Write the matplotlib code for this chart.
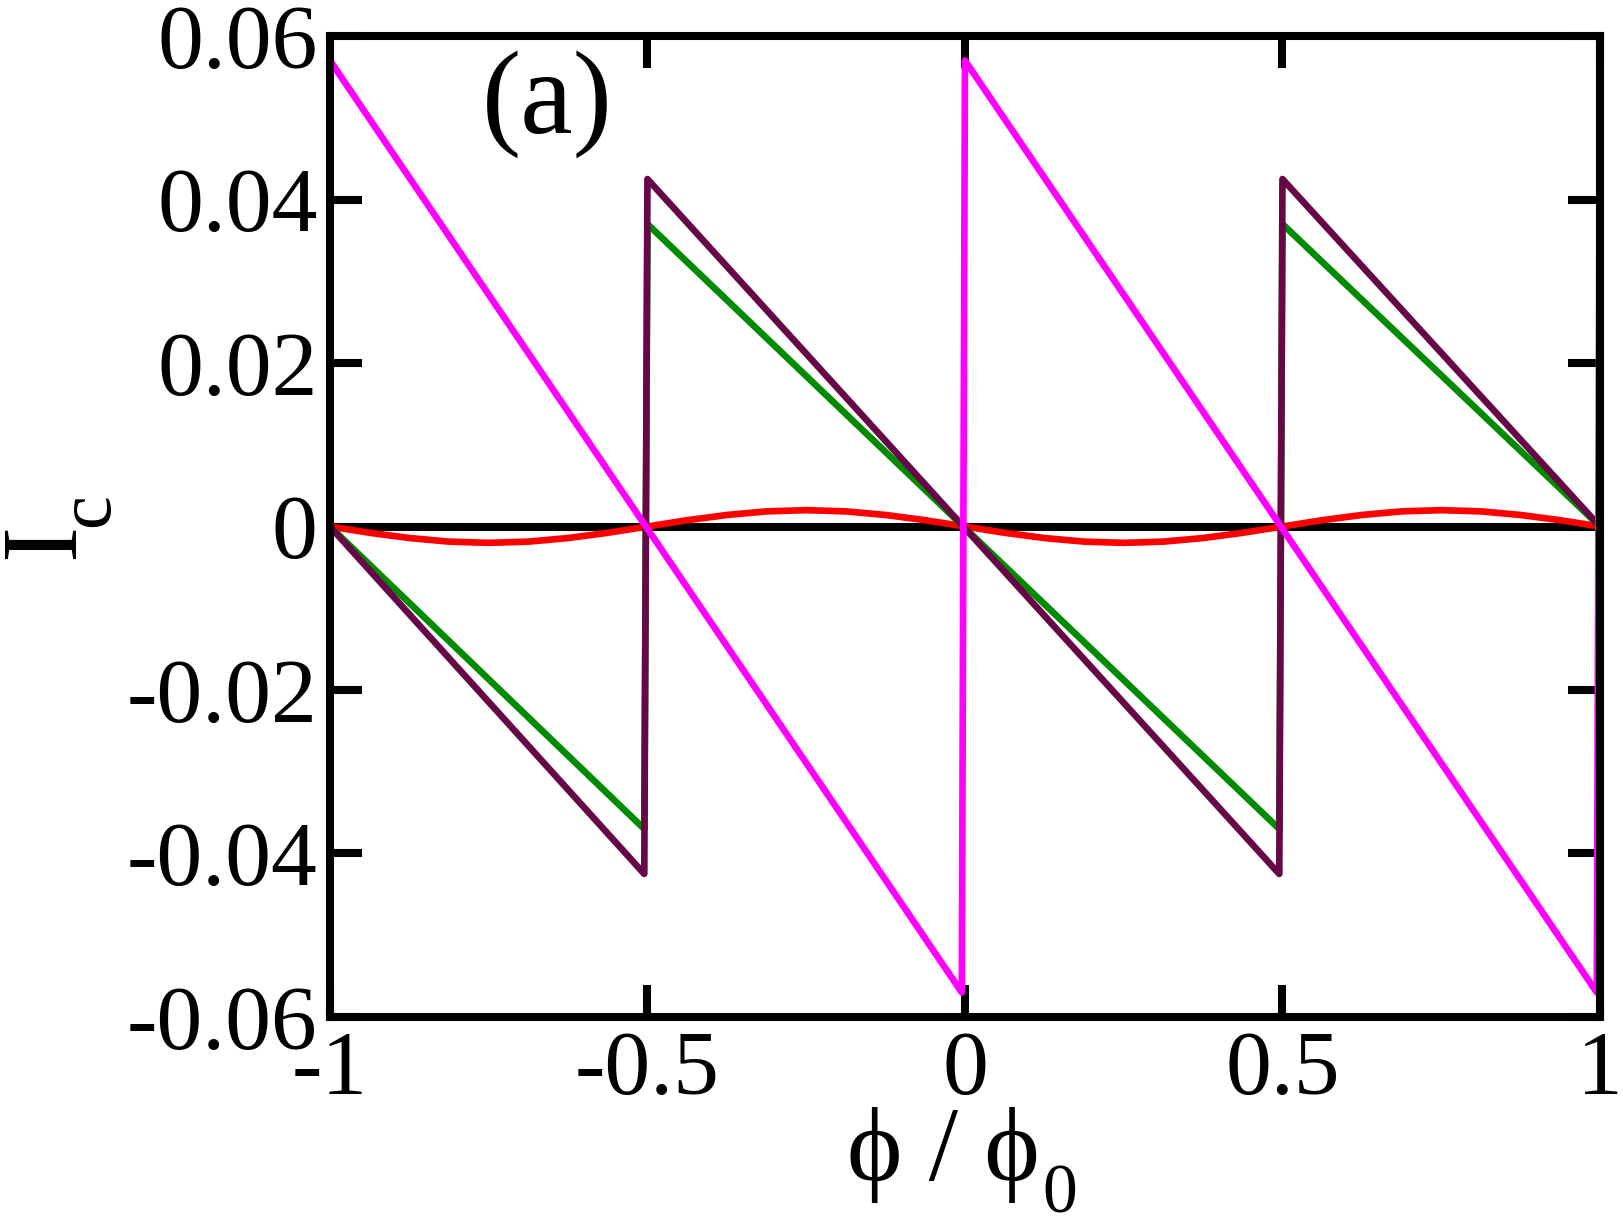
import matplotlib
matplotlib.use("Agg")
import matplotlib.pyplot as plt

plt.rcParams["font.family"] = ["Liberation Serif", "DejaVu Serif"]
plt.rcParams["axes.unicode_minus"] = False

# ---- data ----
zero_x = [-1.0, 1.0]
zero_y = [0.0, 0.0]

magenta_x = [-1.0, -0.005, 0.0, 0.995, 1.0]
magenta_y = [0.057, -0.057, 0.057, -0.057, 0.057]

maroon_x = [-1.0, -0.505, -0.5, 0.495, 0.5, 1.0]
maroon_y = [0.0, -0.0425, 0.0425, -0.0425, 0.0425, 0.0]

green_x = [-1.0, -0.505, -0.5, 0.495, 0.5, 1.0]
green_y = [0.0, -0.037, 0.037, -0.037, 0.037, 0.0]

red_x = [-1.0, -0.9375, -0.875, -0.8125, -0.75, -0.6875, -0.625, -0.5625,
         -0.5, -0.4375, -0.375, -0.3125, -0.25, -0.1875, -0.125, -0.0625,
         0.0, 0.0625, 0.125, 0.1875, 0.25, 0.3125, 0.375, 0.4375,
         0.5, 0.5625, 0.625, 0.6875, 0.75, 0.8125, 0.875, 0.9375, 1.0]
red_y = [0.0, -0.00077, -0.00141, -0.00185, -0.0020, -0.00185, -0.00141, -0.00077,
         0.0, 0.00077, 0.00141, 0.00185, 0.0020, 0.00185, 0.00141, 0.00077,
         0.0, -0.00077, -0.00141, -0.00185, -0.0020, -0.00185, -0.00141, -0.00077,
         0.0, 0.00077, 0.00141, 0.00185, 0.0020, 0.00185, 0.00141, 0.00077, 0.0]

xticks = [-1, -0.5, 0, 0.5, 1]
xtick_labels = ["-1", "-0.5", "0", "0.5", "1"]
yticks = [-0.06, -0.04, -0.02, 0, 0.02, 0.04, 0.06]
ytick_labels = ["-0.06", "-0.04", "-0.02", "0", "0.02", "0.04", "0.06"]

FS = 66
LW_AX = 5.8
LW = 4.8

fig = plt.figure(figsize=(16.23, 12.25), dpi=100)
ax = fig.add_axes([0.2033, 0.1698, 0.7825, 0.8008])

ax.plot(zero_x, zero_y, color="black", lw=LW_AX, zorder=2)
ax.plot(red_x, red_y, color="#FF0000", lw=LW, zorder=3)
ax.plot(green_x, green_y, color="#008B00", lw=LW, zorder=4)
ax.plot(maroon_x, maroon_y, color="#670748", lw=LW, zorder=5)
ax.plot(magenta_x, magenta_y, color="#FF00FF", lw=LW, zorder=6)

ax.set_xlim(-1, 1)
ax.set_ylim(-0.06, 0.06)
ax.set_xticks(xticks)
ax.set_xticklabels(xtick_labels)
ax.set_yticks(yticks)
ax.set_yticklabels(ytick_labels)

for s in ax.spines.values():
    s.set_linewidth(LW_AX)
    s.set_zorder(10)
ax.tick_params(direction="in", length=23, width=LW_AX, labelsize=FS,
               top=True, right=True)
ax.tick_params(axis="x", pad=10)
ax.tick_params(axis="y", pad=9)

# axis titles: main symbol + subscript placed as separate texts
ax.text(0.559, -0.166, "ϕ / ϕ", transform=ax.transAxes, fontsize=76,
        ha="right", va="baseline")
ax.text(0.5606, -0.199, "0", transform=ax.transAxes, fontsize=50,
        ha="left", va="baseline")
ax.text(-0.2224, 0.485, "I", transform=ax.transAxes, fontsize=78,
        rotation=90, ha="center", va="center")
ax.text(-0.1894, 0.5168, "c", transform=ax.transAxes, fontsize=55,
        rotation=90, ha="center", va="center")

ax.text(0.171, 0.901, "(a)", transform=ax.transAxes, fontsize=85,
        ha="center", va="baseline")

fig.savefig("out.png", dpi=100, facecolor="white")
